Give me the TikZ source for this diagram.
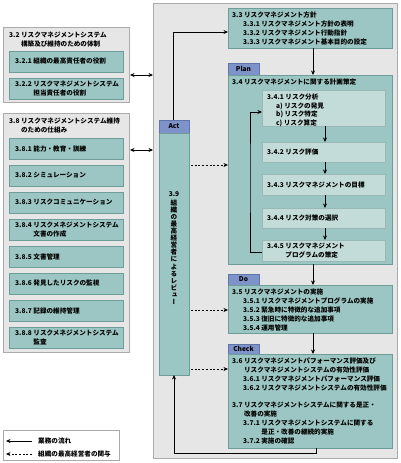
\documentclass[tikz,border=0pt]{standalone}
\usepackage{fontspec}
\setmainfont{Noto Sans CJK JP}
\newfontfamily\jpv{Noto Sans CJK JP}[RawFeature=+vert]
\usetikzlibrary{arrows.meta}
\definecolor{panelfill}{HTML}{E6E6E6}
\definecolor{panelline}{HTML}{ABABAB}
\definecolor{tealfill}{HTML}{9CC6C3}
\definecolor{tealline}{HTML}{6E9C98}
\definecolor{lightfill}{HTML}{C3DCD9}
\definecolor{lightline}{HTML}{98B9B5}
\definecolor{tabfill}{HTML}{7D93C9}
\definecolor{tabline}{HTML}{5F74A8}
\tikzset{
  txt/.style={inner sep=0pt, align=left, font=\bfseries\fontsize{6.6}{8.8}\selectfont},
  grp/.style={draw=panelline, fill=panelfill, line width=0.7pt, inner sep=0pt, outer sep=0pt, anchor=north west},
  tbox/.style={draw=tealline, fill=tealfill, line width=0.6pt, inner sep=0pt, outer sep=0pt, anchor=north west},
  lbox/.style={draw=lightline, fill=lightfill, line width=0.6pt, inner sep=0pt, outer sep=0pt, anchor=north west},
  tabbox/.style={draw=tabline, fill=tabfill, line width=0.6pt, inner sep=0pt, outer sep=0pt, anchor=north west, font=\bfseries\fontsize{6.6}{8}\selectfont},
  legbox/.style={draw=panelline, fill=white, line width=0.7pt, inner sep=0pt, outer sep=0pt, anchor=north west},
  flow/.style={line width=0.9pt, -{Stealth[length=4.5pt,width=4pt]}},
  both/.style={line width=0.9pt, {Stealth[length=4.5pt,width=4pt]}-{Stealth[length=4.5pt,width=4pt]}},
  mgmt/.style={line width=0.9pt, dash pattern=on 2pt off 1.7pt, -{Stealth[length=4.5pt,width=4pt]}},
}
\begin{document}
\begin{tikzpicture}[x=1pt,y=-1pt]
\useasboundingbox (0,0) rectangle (400,463);

% right panel
\node[grp, minimum width=244pt, minimum height=455pt] (panel) at (153,3) {};

% group 3.2
\node[grp, minimum width=126pt, minimum height=75pt] (gA) at (3,27) {};
\node[txt, anchor=north west] (tA) at (9,31.5) {3.2 リスクマネジメントシステム\\\phantom{3.2 }構築及び維持のための体制};
\node[tbox, minimum width=114pt, minimum height=21pt] (a1) at (9,51) {};
\node[tbox, minimum width=114pt, minimum height=21pt] (a2) at (9,78) {};
\node[txt, anchor=west] (ta1) at (15,61.5) {3.2.1 組織の最高責任者の役割};
\node[txt, anchor=west] (ta2) at (15,88.5) {3.2.2 リスクマネジメントシステム\\\phantom{3.2.2 }担当責任者の役割};

% group 3.8
\node[grp, minimum width=126pt, minimum height=239pt] (gB) at (3,113) {};
\node[txt, anchor=north west] (tB) at (9,117.5) {3.8 リスクマネジメントシステム維持\\\phantom{3.8 }のための仕組み};
\foreach \k in {0,...,7} {
  \node[tbox, minimum width=114pt, minimum height=21pt] (b\k) at (9,138+27*\k) {};
}
\node[txt, anchor=west] (tb0) at (15,148.5) {3.8.1 能力・教育・訓練};
\node[txt, anchor=west] (tb1) at (15,175.5) {3.8.2 シミュレーション};
\node[txt, anchor=west] (tb2) at (15,202.5) {3.8.3 リスクコミュニケーション};
\node[txt, anchor=west] (tb3) at (15,229.5) {3.8.4 リスクメネジメントシステム\\\phantom{3.8.4 }文書の作成};
\node[txt, anchor=west] (tb4) at (15,256.5) {3.8.5 文書管理};
\node[txt, anchor=west] (tb5) at (15,283.5) {3.8.6 発見したリスクの監視};
\node[txt, anchor=west] (tb6) at (15,310.5) {3.8.7 記録の維持管理};
\node[txt, anchor=west] (tb7) at (15,337.5) {3.8.8 リスクメネジメントシステム\\\phantom{3.8.8 }監査};

% Act column
\node[tabbox, minimum width=30pt, minimum height=13pt] (actH) at (159,120) {Act};
\node[tbox, minimum width=30pt, minimum height=242pt] (actB) at (159,133) {};
\node[inner sep=0pt, align=center, anchor=north, font=\jpv\bfseries\fontsize{6.6}{7.1}\selectfont] (rev) at (174,191.5)
  {3.9\\[1.5pt]組\\織\\の\\最\\高\\経\\営\\者\\に\\よ\\る\\レ\\ビ\\ュ\\ー};

% 3.3
\node[tbox, minimum width=164pt, minimum height=40pt] (s33) at (228,8) {};
\node[txt, anchor=west] (t33) at (232,28.5) {3.3 リスクマネジメント方針\\
\hspace*{11pt}3.3.1 リスクマネジメント方針の表明\\
\hspace*{11pt}3.3.2 リスクマネジメント行動指針\\
\hspace*{11pt}3.3.3 リスクマネジメント基本目的の設定};

% Plan
\node[tabbox, minimum width=31pt, minimum height=12pt] (planT) at (228,63) {Plan};
\node[tbox, minimum width=164pt, minimum height=189pt] (planB) at (228,75) {};
\node[txt, anchor=north west] (t34) at (232,78.5) {3.4 リスクマネジメントに関する計画策定};
\node[lbox, minimum width=123pt, minimum height=36pt] (p1) at (262,90) {};
\node[lbox, minimum width=123pt, minimum height=20pt] (p2) at (262,142) {};
\node[lbox, minimum width=123pt, minimum height=21pt] (p3) at (262,174) {};
\node[lbox, minimum width=123pt, minimum height=20pt] (p4) at (262,208) {};
\node[lbox, minimum width=123pt, minimum height=21pt] (p5) at (262,240) {};
\node[txt, anchor=north west] (tp1) at (267,93.5) {3.4.1 リスク分析\\
\hspace*{9pt}a) リスクの発見\\
\hspace*{9pt}b) リスク特定\\
\hspace*{9pt}c) リスク算定};
\node[txt, anchor=west] (tp2) at (267,152) {3.4.2 リスク評価};
\node[txt, anchor=west] (tp3) at (267,184.5) {3.4.3 リスクマネジメントの目標};
\node[txt, anchor=west] (tp4) at (267,218) {3.4.4 リスク対策の選択};
\node[txt, anchor=west] (tp5) at (267,250.5) {3.4.5 リスクマネジメント\\\phantom{3.4.5 }プログラムの策定};

% Do
\node[tabbox, minimum width=31pt, minimum height=11pt] (doT) at (228,274) {Do};
\node[tbox, minimum width=164pt, minimum height=48pt] (doB) at (228,285) {};
\node[txt, anchor=west] (tdo) at (232,310) {3.5 リスクマネジメントの実施\\
\hspace*{11pt}3.5.1 リスクマネジメントプログラムの実施\\
\hspace*{11pt}3.5.2 緊急時に特徴的な追加事項\\
\hspace*{11pt}3.5.3 復旧に特徴的な追加事項\\
\hspace*{11pt}3.5.4 運用管理};

% Check
\node[tabbox, minimum width=31pt, minimum height=10pt] (ckT) at (228,344) {Check};
\node[tbox, minimum width=164pt, minimum height=94pt] (ckB) at (228,354) {};
\node[txt, anchor=west] (tck) at (232,401) {3.6 リスクマネジメントパフォーマンス評価及び\\
\phantom{3.6 }リスクマネジメントシステムの有効性評価\\
\hspace*{11pt}3.6.1 リスクマネジメントパフォーマンス評価\\
\hspace*{11pt}3.6.2 リスクマネジメントシステムの有効性評価\\[8.8pt]
3.7 リスクマネジメントシステムに関する是正・\\
\phantom{3.7 }改善の実施\\
\hspace*{11pt}3.7.1 リスクマネジメントシステムに関する\\
\hspace*{11pt}\phantom{3.7.1 }是正・改善の継続的実施\\
\hspace*{11pt}3.7.2 実施の確認};

% legend
\node[legbox, minimum width=116pt, minimum height=30pt] (leg) at (3,430) {};
\coordinate (l1a) at (6,441);
\coordinate (l1b) at (32,441);
\coordinate (l2a) at (6,454);
\coordinate (l2b) at (32,454);
\node[txt, anchor=west] (lt1) at (38,441) {業務の流れ};
\node[txt, anchor=west] (lt2) at (38,454) {組織の最高経営者の関与};
\draw[flow] (l1b) -- (l1a);
\draw[mgmt] (l2b) -- (l2a);

% connectors
\coordinate (h1) at (0,75);
\coordinate (h2) at (0,150);
\draw[both, shorten <=1pt] (gA.east |- h1) -- (panel.west |- h1);
\draw[both, shorten <=1pt] (gB.east |- h2) -- (panel.west |- h2);

\draw[flow] ([xshift=-1pt]actH.north) |- ([yshift=-4pt]s33.west);
\draw[flow] ([xshift=3pt]s33.south) -- ([xshift=3pt]planB.north);
\draw[flow] ([xshift=1.5pt]p1.south) -- ([xshift=1.5pt]p2.north);
\draw[flow] ([xshift=1.5pt]p2.south) -- ([xshift=1.5pt]p3.north);
\draw[flow] ([xshift=1.5pt]p3.south) -- ([xshift=1.5pt]p4.north);
\draw[flow] ([xshift=1.5pt]p4.south) -- ([xshift=1.5pt]p5.north);
\coordinate (lp) at (250,0);
\draw[flow] ([yshift=-1.5pt]p5.west) -| (lp |- p3.north) |- ([yshift=-4pt]p1.west);
\draw[flow] ([xshift=3pt]planB.south) -- ([xshift=3pt]doB.north);
\draw[flow] ([xshift=3pt]doB.south) -- ([xshift=3pt]ckB.north);
\draw[flow] ([xshift=6pt]ckB.south) -- ++(0,5) -| (actB.south);

\coordinate (d1) at (0,165);
\coordinate (d2) at (0,310);
\coordinate (d3) at (0,369);
\draw[mgmt, shorten <=2pt] (actB.east |- d1) -- (planB.west |- d1);
\draw[mgmt, shorten <=2pt] (actB.east |- d2) -- (doB.west |- d2);
\draw[mgmt, shorten <=2pt] (actB.east |- d3) -- (ckB.west |- d3);
\end{tikzpicture}
\end{document}
